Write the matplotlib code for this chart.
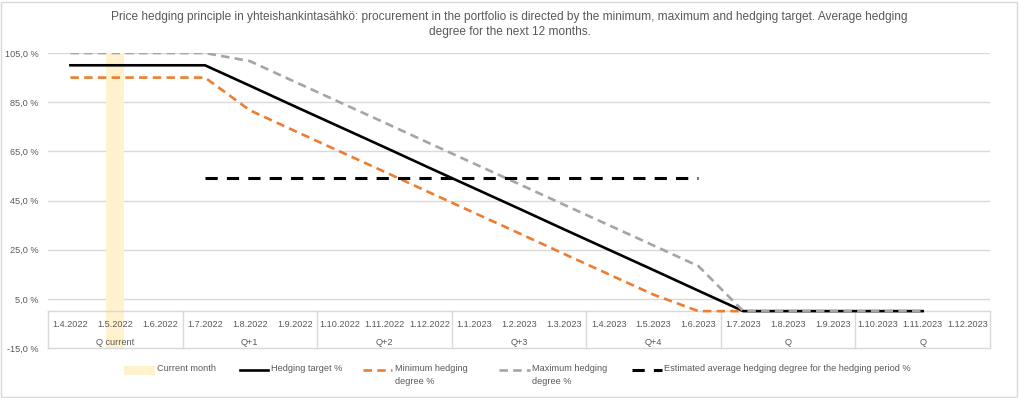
import matplotlib
matplotlib.use('Agg')
import matplotlib.pyplot as plt
import numpy as np
from matplotlib.lines import Line2D
from matplotlib.patches import Rectangle

nan = np.nan

months = ["1.4.2022", "1.5.2022", "1.6.2022", "1.7.2022", "1.8.2022", "1.9.2022",
          "1.10.2022", "1.11.2022", "1.12.2022", "1.1.2023", "1.2.2023", "1.3.2023",
          "1.4.2023", "1.5.2023", "1.6.2023", "1.7.2023", "1.8.2023", "1.9.2023",
          "1.10.2023", "1.11.2023", "1.12.2023"]
quarters = ["Q current", "Q+1", "Q+2", "Q+3", "Q+4", "Q", "Q"]

current_month = [nan, 105, nan, nan, nan, nan, nan, nan, nan, nan, nan, nan,
                 nan, nan, nan, nan, nan, nan, nan, nan, nan]
hedging_target = [100, 100, 100, 100, 91.7, 83.3, 75, 66.7, 58.3, 50, 41.7, 33.3,
                  25, 16.7, 8.3, 0, 0, 0, 0, 0, nan]
minimum_degree = [95, 95, 95, 95, 81.7, 73.3, 65, 56.7, 48.3, 40, 31.7, 23.3,
                  15, 6.7, 0, 0, nan, nan, nan, nan, nan]
maximum_degree = [105, 105, 105, 105, 101.7, 93.3, 85, 76.7, 68.3, 60, 51.7, 43.3,
                  35, 26.7, 18.3, 0, 0, 0, 0, 0, nan]
average_degree = [nan, nan, nan, 54, 54, 54, 54, 54, 54, 54, 54, 54,
                  54, 54, 54, nan, nan, nan, nan, nan, nan]

legend_labels = ["Current month", "Hedging target %", "Minimum hedging\ndegree %",
                 "Maximum hedging\ndegree %",
                 "Estimated average hedging degree for the hedging period %"]

y_min, y_max, y_step = -15, 105, 20

FONT = ['Liberation Sans', 'DejaVu Sans']
plt.rcParams['font.family'] = FONT
TXT = '#595959'
GRID = '#D9D9D9'
C_BAR = '#FFF2CC'
C_MIN = '#ED7D31'
C_MAX = '#A5A5A5'

W, H = 1019, 398
fig = plt.figure(figsize=(W / 100, H / 100), dpi=100)
ax = fig.add_axes([48/W, 1-348/H, (990-48)/W, (348-53)/H])

n = len(months)
x = np.arange(n)
ax.set_xlim(-0.5, n - 0.5)
ax.set_ylim(y_min, y_max)

# gridlines
for v in np.arange(y_min + y_step, y_max + 1, y_step):
    ax.axhline(v, color=GRID, lw=1, zorder=0.5)

# current month bar
cm = np.array(current_month, dtype=float)
ax.bar(x, cm - y_min, bottom=y_min, width=0.4, color=C_BAR, zorder=1)

# category axis box
ax.plot([-0.5, n - 0.5], [0, 0], color=GRID, lw=1, zorder=2, clip_on=False)
ax.plot([-0.5, n - 0.5], [y_min, y_min], color=GRID, lw=1, zorder=2, clip_on=False)
for b in np.arange(-0.5, n, 3):
    ax.plot([b, b], [0, y_min], color=GRID, lw=1, zorder=2, clip_on=False)
for i, m in enumerate(months):
    ax.text(i, -5.3, m, ha='center', va='center', fontsize=6.6, color=TXT, zorder=3)
for q, lab in enumerate(quarters):
    ax.text(q * 3 + 1, -12.8, lab, ha='center', va='center', fontsize=6.6, color=TXT, zorder=3)

# lines
ax.plot(x, hedging_target, color='black', lw=1.9, zorder=4)
ax.plot(x, minimum_degree, color=C_MIN, lw=1.9, dashes=(3.2, 2.0), zorder=5)
ax.plot(x, maximum_degree, color=C_MAX, lw=1.9, dashes=(3.2, 2.0), zorder=6)
ax.plot(x, average_degree, color='black', lw=2.2, dashes=(4.0, 3.0), zorder=7)

# axes styling
for s in ax.spines.values():
    s.set_visible(False)
ax.set_xticks([])
yt = np.arange(y_min, y_max + 1, y_step)
ax.set_yticks(yt)
ax.set_yticklabels([("%.1f %%" % v).replace('.', ',') for v in yt], fontsize=6.6, color=TXT)
ax.tick_params(axis='y', length=0, pad=7)

# title
fig.text(0.5, 1 - 17/H,
         "Price hedging principle in yhteishankintasähkö: procurement in the portfolio is directed by the minimum, maximum and hedging target. Average hedging",
         ha='center', va='center', fontsize=8.6, color=TXT)
fig.text(0.5, 1 - 32/H, "degree for the next 12 months.",
         ha='center', va='center', fontsize=8.6, color=TXT)

# legend (drawn manually to match the reference layout)
ly = 1 - 370/H
def fx(px):
    return px / W
fig.patches.append(Rectangle((fx(124), 1 - 375/H), fx(31), 9/H, transform=fig.transFigure,
                             facecolor=C_BAR, edgecolor='none'))
key_styles = [
    (240, 268, dict(color='black', lw=1.9)),
    (363, 392, dict(color=C_MIN, lw=1.9, dashes=(3.2, 2.0))),
    (499, 530, dict(color=C_MAX, lw=1.9, dashes=(3.2, 2.0))),
    (632, 662, dict(color='black', lw=2.2, dashes=(4.0, 3.0))),
]
for x0, x1, st in key_styles:
    fig.add_artist(Line2D([fx(x0), fx(x1)], [ly, ly], transform=fig.transFigure, **st))
text_x = [157, 271, 395, 532, 664]
for tx, lab in zip(text_x, legend_labels):
    fig.text(fx(tx), ly + 6/H, lab, ha='left', va='top', fontsize=6.6, color=TXT,
             linespacing=1.5)

# outer border
fig.patches.append(Rectangle((1/W, 1/H), 1 - 3/W, 1 - 3/H, transform=fig.transFigure,
                             fill=False, edgecolor=GRID, lw=1))

fig.savefig('out.png', dpi=100)
